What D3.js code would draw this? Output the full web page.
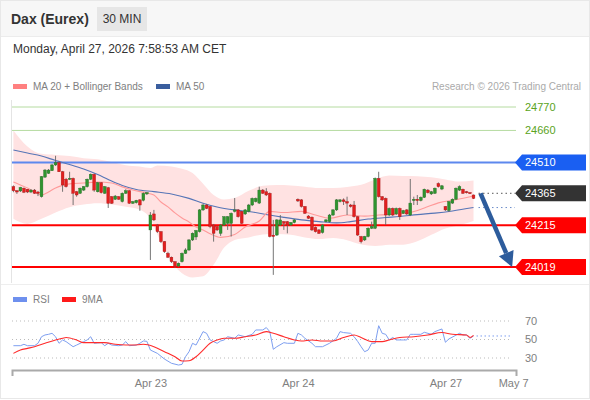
<!DOCTYPE html>
<html lang="en">
<head>
<meta charset="UTF-8"/>
<title>Dax (Eurex) 30 MIN</title>
<script src="https://d3js.org/d3.v7.min.js"></script>
<style>
  body { margin:0; background:#fff; }
  svg { display:block; font-family:'Liberation Sans', Arial, sans-serif; }
</style>
</head>
<body>
<svg width="590" height="400"></svg>
<script>
// 30 min candles, slot 0 = first candle of Apr 22 session
const open = [
  24396,24377,24376,24389,24384,24371,24380,24371,24349,24441,24459,24471,24498,24509,24466,24431,24431,24435,24372,24365,24380,24396,24431,24454,24372,24415,24365,24391,24349,24337,24349,24326,24365,24377,24318,24321,24334,24332,24362,
  24193,24268,24216,24185,24138,24083,24065,24044,24024,24044,24083,24099,24146,24160,24185,24287,24310,24303,24216,24209,24177,24216,24224,24224,24280,24287,24280,24268,24280,24310,24326,24319,24380,24372,24365,24169,24169,24216,24232,24232,24216,24228,
  24337,24334,24303,24258,24253,24205,24193,24181,24232,24232,24263,24287,24326,24334,24326,24310,24310,24255,24162,24146,24162,24201,24201,24435,24349,24341,24263,24294,24268,24294,24271,24287,24263,24331,24337,24331,24346,24380,24362,24365,24411,24385,
  24303,24284,24319,24337,24380,24384,24372,24368,24357];
const high = [
  24402,24380,24395,24392,24385,24385,24385,24376,24446,24479,24479,24503,24541,24517,24470,24437,24466,24439,24376,24392,24399,24434,24458,24458,24418,24418,24399,24395,24352,24357,24352,24369,24384,24380,24329,24334,24338,24369,24371,
  24277,24287,24221,24188,24141,24090,24068,24047,24040,24087,24107,24150,24181,24193,24291,24315,24315,24305,24221,24212,24221,24258,24258,24275,24343,24291,24282,24291,24315,24345,24345,24396,24385,24389,24369,24240,24244,24263,24235,24235,24230,24244,
  24341,24338,24305,24263,24256,24209,24197,24221,24244,24268,24291,24338,24338,24341,24349,24315,24329,24258,24165,24165,24205,24232,24439,24466,24352,24345,24298,24298,24298,24298,24287,24291,24432,24349,24357,24350,24387,24385,24376,24392,24416,24404,
  24305,24329,24341,24392,24402,24387,24376,24371,24359];
const low = [
  24370,24362,24371,24366,24366,24366,24362,24352,24345,24437,24456,24470,24493,24465,24372,24392,24427,24310,24349,24362,24376,24392,24427,24372,24369,24364,24362,24296,24315,24334,24334,24322,24362,24315,24315,24317,24283,24327,24357,
  24052,24235,24179,24132,24085,24061,24038,24014,24019,24040,24080,24094,24141,24146,24181,24282,24291,24201,24138,24188,24165,24212,24193,24162,24275,24251,24221,24263,24275,24305,24322,24315,24362,24352,24158,23982,24165,24212,24193,24177,24212,24224,
  24324,24298,24268,24244,24188,24181,24174,24176,24228,24228,24258,24282,24322,24310,24263,24298,24251,24165,24130,24141,24158,24197,24197,24345,24329,24216,24258,24258,24263,24240,24268,24263,24258,24310,24310,24327,24343,24364,24357,24362,24392,24380,
  24282,24277,24315,24334,24376,24362,24364,24362,24338];
const close = [
  24377,24371,24392,24370,24371,24380,24365,24365,24443,24474,24474,24498,24509,24466,24404,24396,24435,24365,24357,24389,24396,24431,24454,24380,24415,24368,24396,24318,24318,24352,24337,24365,24377,24318,24326,24332,24310,24365,24368,
  24263,24240,24185,24138,24091,24065,24044,24020,24036,24083,24099,24146,24177,24190,24287,24310,24294,24209,24177,24193,24216,24255,24255,24271,24287,24255,24224,24287,24310,24341,24341,24380,24365,24357,24162,24162,24240,24240,24224,24216,24228,24240,
  24329,24303,24271,24248,24193,24185,24177,24216,24240,24263,24287,24334,24334,24326,24319,24303,24255,24169,24138,24162,24201,24209,24435,24349,24334,24263,24294,24263,24294,24255,24284,24268,24319,24337,24331,24346,24384,24368,24372,24389,24396,24400,
  24287,24326,24337,24389,24396,24365,24368,24366,24341];

// moving average 20 + bollinger bands, read at sampled slots
const ma20Idx = [0,2,4,6,8,10,12,14,16,20,24,28,31,34,38,40,42,44,46,48,50,52,54,56,59,63,66,70,73,77,82,86,90,95,100,104,109,113,117,121,126,131];
const ma20 = [24418,24404,24390,24371,24357,24371,24390,24402,24409,24413,24418,24413,24395,24380,24366,24357,24324,24301,24273,24249,24230,24207,24193,24175,24158,24172,24207,24235,24280,24275,24280,24263,24248,24263,24258,24263,24268,24275,24296,24320,24335,24352];
const bbIdx = [0,4,8,12,16,20,24,28,32,36,39,41,45,48,51,54,57,60,63,67,71,75,79,83,87,91,95,99,103,107,111,115,119,123,127,131];
const bbUpper = [24660,24585,24550,24545,24540,24530,24525,24512,24497,24491,24484,24496,24491,24480,24460,24410,24357,24336,24343,24377,24400,24404,24402,24396,24390,24390,24395,24405,24430,24448,24446,24445,24440,24430,24420,24425];
const bbLower = [24245,24221,24245,24275,24300,24312,24318,24312,24302,24288,24245,24170,24042,23990,23970,23975,24029,24110,24146,24158,24172,24174,24170,24158,24150,24155,24145,24125,24118,24124,24124,24140,24170,24200,24215,24235];
const ma50Idx = [0,4,8,12,16,20,24,27,31,35,40,45,50,54,58,63,68,73,77,82,87,92,96,101,106,110,115,120,125,131];
const ma50 = [24568,24554,24540,24519,24500,24479,24453,24430,24402,24383,24373,24362,24341,24318,24301,24287,24277,24263,24252,24240,24232,24226,24232,24244,24251,24256,24265,24272,24282,24298];

// RSI and its 9 period MA
const rsiIdx = [0,2,3,4,6,7,8,9,10,11,12,13,14,15,17,18,20,21,22,23,24,25,26,27,28,30,31,32,33,35,36,37,38,39,41,43,45,47,48,49,50,51,52,54,55,56,58,59,60,61,63,64,66,68,69,71,72,73,74,75,77,78,80,81,82,83,85,86,88,90,92,93,94,96,97,98,99,100,101,102,103,104,105,106,107,108,109,111,112,113,114,116,117,119,120,122,123,124,127,128,129,130,131];
const rsi = [43.3,43.3,44.8,43.3,43.3,45.9,53,54.9,55.6,56.7,53,45.9,49.5,47.7,42.2,44,47.7,49.5,53,45.9,46.3,46.6,43.3,45.9,44,43.3,44,47.7,43.3,44,45.9,48.4,48,38.6,35,28.9,24.3,22.4,23.1,31.4,36.8,45.9,44,58.5,56.7,49.5,45.9,48.4,49.5,53,51.3,54.9,53,55.6,60.3,60.3,62.9,58.5,39.4,42.2,46.6,45.9,45.9,56.7,54.9,51.3,45.9,42.2,42.2,45.9,51.3,58.5,57.5,56.7,53,48,42.2,36.8,38.6,45.9,45.9,64.9,56.7,55.6,49.5,52.2,49.5,49.5,49.5,55.6,55.6,55.6,57.8,55.6,58.5,61.4,47,50.6,56.7,54.9,54.9,51.3,53.8];
const rsiMaIdx = [0,2,4,6,9,12,14,15,18,20,23,26,29,32,34,37,40,43,46,48,50,52,54,56,58,60,63,66,69,72,74,77,80,82,85,88,91,94,97,99,102,105,107,110,114,118,122,125,129,130,131];
const rsiMa = [35,38.6,40.4,42.2,45.9,49.5,51.3,52.2,49.5,46.6,46.6,46.6,44.8,44,44,44.8,42.2,36.8,31.4,26.8,27,31.4,38.6,45.9,49.5,51.3,51.3,53,54.9,58.5,56.7,53,49.5,48.4,49.5,48.4,48.4,52.2,54.9,52.2,47.7,47.7,49.5,52.2,53,54.9,57.5,55.6,54.9,52.2,54.5];
const rsiLevels = [70, 50, 30];

// key levels
const levels = [24770, 24660, 24510, 24365, 24215, 24019];

// x axis
const tickLabels = ['Apr 23', 'Apr 24', 'Apr 27', 'May 7'];
const tickSlots = [39, 81, 123, 142.3];

const svg = d3.select('svg');

// frame + header
svg.append('rect').attr('x', 0.5).attr('y', 0.5).attr('width', 589).attr('height', 398)
  .attr('fill', '#fff').attr('stroke', '#e8e8e8');
svg.append('rect').attr('x', 1).attr('y', 1).attr('width', 588).attr('height', 35).attr('fill', '#f7f7f7');
svg.append('line').attr('x1', 1).attr('x2', 589).attr('y1', 36.5).attr('y2', 36.5).attr('stroke', '#ececec');

svg.append('text').attr('x', 11).attr('y', 24).attr('font-size', 14).attr('font-weight', 'bold')
  .attr('fill', '#333').text('Dax (Eurex)');
svg.append('rect').attr('x', 97).attr('y', 7).attr('width', 50).attr('height', 24).attr('fill', '#e6e6e6');
svg.append('text').attr('x', 122).attr('y', 23).attr('font-size', 12).attr('text-anchor', 'middle')
  .attr('fill', '#333').text('30 MIN');
svg.append('text').attr('x', 13).attr('y', 53).attr('font-size', 12).attr('fill', '#333')
  .text('Monday, April 27, 2026 7:58:53 AM CET');

// legend
svg.append('rect').attr('x', 13).attr('y', 84).attr('width', 14).attr('height', 5).attr('fill', '#ff8080');
svg.append('text').attr('x', 33).attr('y', 90).attr('font-size', 10).attr('fill', '#808080').text('MA 20 + Bollinger Bands');
svg.append('rect').attr('x', 156).attr('y', 84).attr('width', 14).attr('height', 5).attr('fill', '#3a5e9e');
svg.append('text').attr('x', 176).attr('y', 90).attr('font-size', 10).attr('fill', '#808080').text('MA 50');
svg.append('text').attr('x', 581).attr('y', 90).attr('font-size', 10).attr('fill', '#aaa')
  .attr('text-anchor', 'end').text('Research \u00a9 2026 Trading Central');

// scales
const x = d3.scaleLinear().domain([-0.4, 143.1]).range([12, 516]);
const y = d3.scaleLinear().domain([24019, 24770]).range([267, 107]);
const yR = d3.scaleLinear().domain([30, 70]).range([358, 321]);

// plot edges
svg.append('line').attr('x1', 11.5).attr('x2', 11.5).attr('y1', 100).attr('y2', 283).attr('stroke', '#e4e4e4');
svg.append('line').attr('x1', 1).attr('x2', 589).attr('y1', 284.5).attr('y2', 284.5).attr('stroke', '#eeeeee');

// bollinger band
const band = d3.area()
  .x((d, i) => x(bbIdx[i]))
  .y0((d, i) => y(bbLower[i]))
  .y1((d, i) => y(bbUpper[i]))
  .curve(d3.curveMonotoneX);
svg.append('path').datum(bbIdx).attr('d', band).attr('fill', '#ffe2e2');

// level lines
const lvlColor = ['#b5dba0', '#b5dba0', '#5d88ee', null, '#ff0000', '#ff0000'];
const lvlWidth = [1, 1, 2, 0, 2.2, 2.2];
levels.forEach((v, i) => {
  if (!lvlColor[i]) return;
  svg.append('line').attr('x1', 12).attr('x2', 516)
    .attr('y1', y(v)).attr('y2', y(v))
    .attr('stroke', lvlColor[i]).attr('stroke-width', lvlWidth[i]);
});

// MA lines
const lineFrom = (idx, vals, ys) => d3.line()
  .x((d, i) => x(idx[i]))
  .y((d, i) => ys(vals[i]))
  .curve(d3.curveMonotoneX)(idx);
svg.append('path').attr('d', lineFrom(ma50Idx, ma50, y)).attr('fill', 'none')
  .attr('stroke', '#5675b6').attr('stroke-width', 1.1);
svg.append('path').attr('d', lineFrom(ma20Idx, ma20, y)).attr('fill', 'none')
  .attr('stroke', '#ff9a9a').attr('stroke-width', 1.1);

// candles
const candles = svg.append('g');
const bw = 2.8;
open.forEach((o, i) => {
  const c = close[i];
  const cx = x(i);
  candles.append('line').attr('x1', cx).attr('x2', cx)
    .attr('y1', y(high[i])).attr('y2', y(low[i]))
    .attr('stroke', '#666').attr('stroke-width', 0.9);
  const top = y(Math.max(o, c));
  const h = Math.max(1, y(Math.min(o, c)) - top);
  candles.append('rect').attr('x', cx - bw / 2).attr('y', top)
    .attr('width', bw).attr('height', h)
    .attr('fill', c >= o ? '#2f942f' : '#e21f1f')
    .attr('stroke', c >= o ? '#236e23' : '#a81717').attr('stroke-width', 0.4);
});

// dotted continuations
const last = open.length - 1;
svg.append('line').attr('x1', x(last) + 5).attr('x2', 515)
  .attr('y1', y(levels[3])).attr('y2', y(levels[3]))
  .attr('stroke', '#555').attr('stroke-dasharray', '1.5,3');
svg.append('line').attr('x1', x(last) + 5).attr('x2', 515)
  .attr('y1', y(ma50[ma50.length - 1])).attr('y2', y(ma50[ma50.length - 1]))
  .attr('stroke', '#6b8bc9').attr('stroke-dasharray', '1.5,3');

// forecast arrow
const ax0 = x(last + 2), ay0 = y(levels[3]);
const ax1 = x(142), ay1 = y(levels[5]);
const len = Math.hypot(ax1 - ax0, ay1 - ay0);
const ux = (ax1 - ax0) / len, uy = (ay1 - ay0) / len;
const bx = ax1 - ux * 15, by = ay1 - uy * 15;
svg.append('line').attr('x1', ax0).attr('y1', ay0).attr('x2', bx).attr('y2', by)
  .attr('stroke', '#2d5c9c').attr('stroke-width', 4.5);
svg.append('path')
  .attr('d', `M${ax1},${ay1}L${bx - uy * 8},${by + ux * 8}L${bx + uy * 8},${by - ux * 8}Z`)
  .attr('fill', '#2d5c9c');

// level labels
const boxColor = [null, null, '#1a5ff2', '#333333', '#ff0000', '#ff0000'];
levels.forEach((v, i) => {
  const yy = y(v);
  if (boxColor[i]) {
    svg.append('path')
      .attr('d', `M515,${yy}L522,${yy - 8}H586V${yy + 8}H522Z`)
      .attr('fill', boxColor[i]);
  }
  svg.append('text').attr('x', 525).attr('y', yy).attr('dy', '0.36em')
    .attr('font-size', 11).attr('fill', boxColor[i] ? '#fff' : '#5aa321').text(v);
});

// RSI panel
svg.append('rect').attr('x', 13).attr('y', 297).attr('width', 14).attr('height', 5).attr('fill', '#6e90ee');
svg.append('text').attr('x', 33).attr('y', 303).attr('font-size', 10).attr('fill', '#808080').text('RSI');
svg.append('rect').attr('x', 62).attr('y', 297).attr('width', 14).attr('height', 5).attr('fill', '#ff1a1a');
svg.append('text').attr('x', 82).attr('y', 303).attr('font-size', 10).attr('fill', '#808080').text('9MA');

rsiLevels.forEach(v => {
  svg.append('line').attr('x1', 12).attr('x2', 512).attr('y1', yR(v)).attr('y2', yR(v))
    .attr('stroke', '#bbb').attr('stroke-dasharray', '1,3');
  svg.append('text').attr('x', 525).attr('y', yR(v)).attr('dy', '0.36em')
    .attr('font-size', 11).attr('fill', '#808080').text(v);
});

const rsiLine = d3.line().x((d, i) => x(rsiIdx[i])).y((d, i) => yR(rsi[i]));
svg.append('path').datum(rsiIdx).attr('d', rsiLine).attr('fill', 'none')
  .attr('stroke', '#7e9ff0').attr('stroke-width', 1);
svg.append('path').attr('d', lineFrom(rsiMaIdx, rsiMa, yR)).attr('fill', 'none')
  .attr('stroke', '#ff2b2b').attr('stroke-width', 1.1);
svg.append('line').attr('x1', x(last) + 3).attr('x2', 512)
  .attr('y1', yR(rsi[rsi.length - 1])).attr('y2', yR(rsi[rsi.length - 1]))
  .attr('stroke', '#7e9ff0').attr('stroke-dasharray', '1.5,2.5');

// time axis
const axis = svg.append('g').attr('transform', 'translate(0,370)')
  .call(d3.axisBottom(x).tickValues(tickSlots).tickFormat((d, i) => tickLabels[i])
    .tickSize(0).tickSizeOuter(6).tickPadding(9));
axis.select('.domain').attr('stroke', '#aaa').attr('stroke-width', 2);
axis.selectAll('text').attr('font-size', 11).attr('fill', '#808080')
  .attr('font-family', "'Liberation Sans', Arial, sans-serif");
</script>
</body>
</html>
